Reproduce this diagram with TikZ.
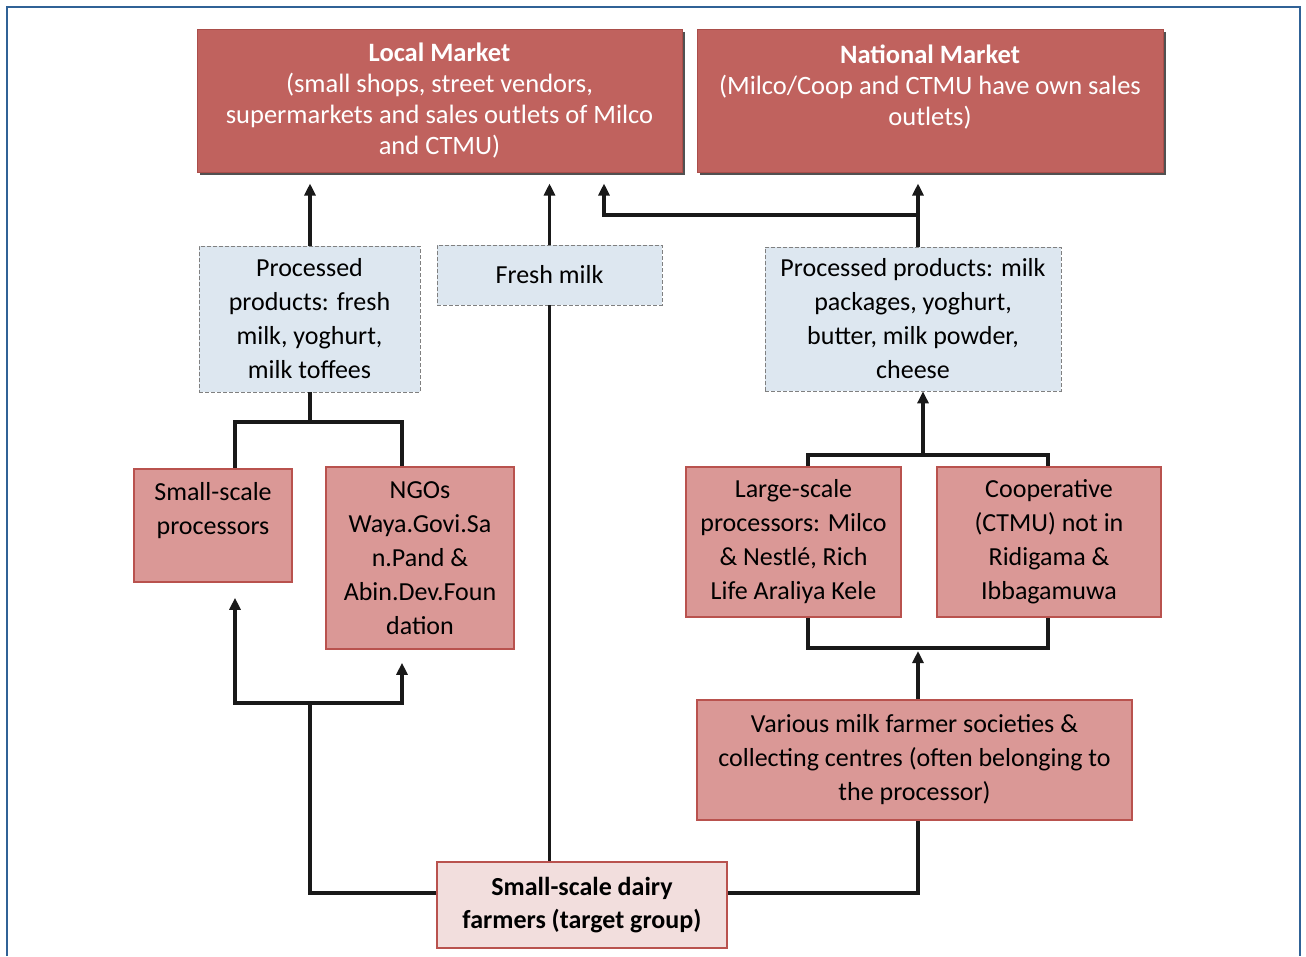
\documentclass[tikz,border=0pt]{standalone}
\usepackage{fontspec}
\setmainfont{Carlito}
\usetikzlibrary{arrows.meta,shadows}
\definecolor{mkt}{RGB}{192,98,94}
\definecolor{mktb}{RGB}{170,78,74}
\definecolor{midf}{RGB}{218,152,150}
\definecolor{midb}{RGB}{185,82,78}
\definecolor{farmf}{RGB}{242,222,221}
\definecolor{prodf}{RGB}{221,231,240}
\definecolor{frame}{RGB}{48,98,150}
\begin{document}
\begin{tikzpicture}[x=1pt,y=-1pt,
  market/.style={draw=mktb, fill=mkt, line width=1pt, text=white, align=center, inner sep=0pt,
    font=\fontsize{26.5}{31}\selectfont,
    drop shadow={shadow xshift=3pt, shadow yshift=-3pt, opacity=0.85, fill=black!80}},
  midbox/.style={draw=midb, fill=midf, line width=1.6pt, align=center, inner sep=0pt,
    font=\fontsize{26}{34}\selectfont},
  farmbox/.style={draw=midb, fill=farmf, line width=1.6pt, align=center, inner sep=0pt,
    font=\fontsize{26}{33}\selectfont\bfseries},
  prodbox/.style={draw=black!50, fill=prodf, line width=0.8pt, dash pattern=on 4pt off 2pt,
    align=center, inner sep=0pt, font=\fontsize{26}{34}\selectfont},
  link/.style={line width=3.6pt, black!90},
  thickline/.style={line width=4.6pt, black!90},
  arr/.style={-{Triangle[width=11pt,length=12pt]}},
]
\useasboundingbox (0,0) rectangle (1306,956);
\draw[frame, line width=2pt] (7,956) -- (7,7) -- (1300,7) -- (1300,956);

% nodes
\node[market, minimum width=485pt, minimum height=143pt] (local) at (439.5,100.5)
  {\textbf{Local Market}\\(small shops, street vendors,\\supermarkets and sales outlets of Milco\\and CTMU)};
\node[market, minimum width=466pt, minimum height=143pt] (national) at (930,100.5)
  {\textbf{National Market}\\(Milco/Coop and CTMU have own sales\\outlets)\\\mbox{}};
\node[prodbox, minimum width=221pt, minimum height=146pt] (procL) at (309.5,319)
  {Processed\\products: fresh\\milk, yoghurt,\\milk toffees};
\node[prodbox, minimum width=225pt, minimum height=60pt] (fresh) at (549.5,275)
  {Fresh milk};
\node[prodbox, minimum width=296pt, minimum height=144pt] (procR) at (913,319)
  {Processed products: milk\\packages, yoghurt,\\butter, milk powder,\\cheese};
\node[midbox, minimum width=158pt, minimum height=113pt] (ssp) at (213,525.5)
  {Small-scale\\processors\\\mbox{}};
\node[midbox, minimum width=188pt, minimum height=182pt] (ngo) at (420,558)
  {NGOs\\Waya.Govi.Sa\\n.Pand \&\\Abin.Dev.Foun\\dation};
\node[midbox, minimum width=215pt, minimum height=150pt] (large) at (793.5,542)
  {Large-scale\\processors: Milco\\\& Nestlé, Rich\\Life Araliya Kele};
\node[midbox, minimum width=224pt, minimum height=150pt] (coop) at (1049,542)
  {Cooperative\\(CTMU) not in\\Ridigama \&\\Ibbagamuwa};
\node[midbox, minimum width=435pt, minimum height=120pt] (various) at (914.5,760)
  {Various milk farmer societies \&\\collecting centres (often belonging to\\the processor)};
\node[farmbox, minimum width=290pt, minimum height=86pt] (farmers) at (582,905)
  {Small-scale dairy\\farmers (target group)};

% helper coordinates
\coordinate (t1) at ([yshift=-11pt]local.south);
\coordinate (jn) at (918,215);
\coordinate (jl) at (604,215);
\coordinate (bl) at (310,422);
\coordinate (bl1) at (235,422);
\coordinate (bl2) at (402,422);
\coordinate (bb) at (310,703);
\coordinate (bb1) at (235,703);
\coordinate (bb2) at (402,703);
\coordinate (tipA) at ([yshift=-15pt]ssp.south -| bb1);
\coordinate (tipB) at ([yshift=-13pt]ngo.south -| bb2);
\coordinate (fr) at (918,893);
\coordinate (rt) at (923,455);
\coordinate (rt1) at (808,455);
\coordinate (rt2) at (1048,455);
\coordinate (rb1) at (808,648);
\coordinate (rb2) at (1048,648);
\coordinate (rtip) at (918,651);

% connectors to markets
\draw[link, arr] (procL.north -| bl) -- (bl |- t1);
\draw[link, arr] (fresh.north) -- (fresh.north |- t1);
\draw[link] (fresh.south) -- (fresh.south |- farmers.north);
\draw[link, arr] (jn |- procR.north) -- (jn |- t1);
\draw[thickline, arr] (jn) -- (jl) -- (jl |- t1);

% left brackets
\draw[link] (procL.south -| bl) -- (bl);
\draw[thickline] (ssp.north -| bl1) -- (bl1) -- (bl2) -- (ngo.north -| bl2);
\draw[thickline, {Triangle[width=11pt,length=12pt]}-{Triangle[width=11pt,length=12pt]}]
  (tipA) -- (bb1) -- (bb2) -- (tipB);
\draw[link] ([yshift=12pt]farmers.west) -- ([yshift=12pt]farmers.west -| bb) -- (bb);

% right side
\draw[link] ([yshift=12pt]farmers.east) -- (fr) -- (various.south -| fr);
\draw[link, arr] (various.north -| fr) -- (rtip);
\draw[thickline] (large.south -| rb1) -- (rb1) -- (rb2) -- (coop.south -| rb2);
\draw[thickline] (large.north -| rt1) -- (rt1) -- (rt2) -- (coop.north -| rt2);
\draw[link, arr] (rt) -- (rt |- procR.south);
\end{tikzpicture}
\end{document}
